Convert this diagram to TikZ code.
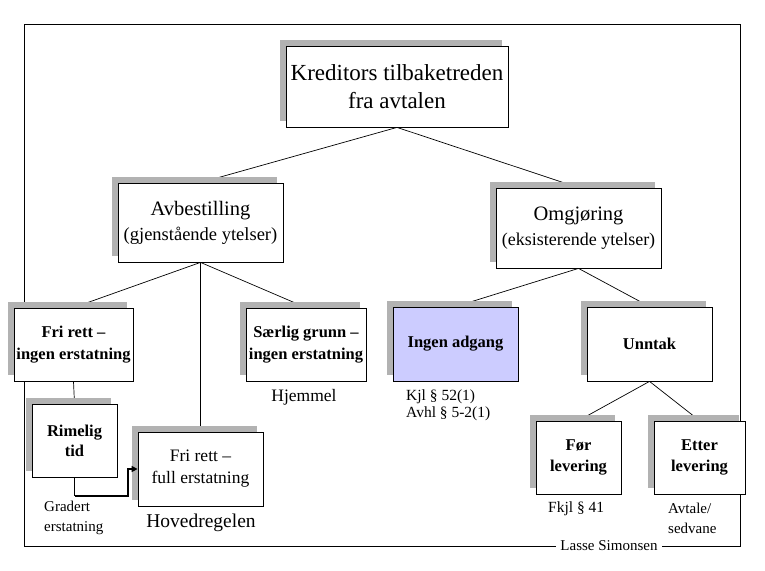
\documentclass[tikz,border=0pt]{standalone}
\usepackage{fontspec}
\setmainfont{Liberation Serif}
\usetikzlibrary{shadows,backgrounds,arrows.meta}
\definecolor{shadowgray}{RGB}{178,178,178}
\definecolor{lav}{RGB}{204,204,255}
\newcommand{\myfs}[2]{\fontsize{#1}{#2}\selectfont}
\begin{document}
\begin{tikzpicture}[x=1pt,y=-1pt,
  box/.style={draw=black, line width=0.8pt, fill=white, inner sep=0pt, align=center,
    drop shadow={shadow xshift=-6pt, shadow yshift=6pt, fill=shadowgray, opacity=1}},
  lbl/.style={inner sep=0pt, align=left},
  conn/.style={line width=0.7pt, draw=black}]
\useasboundingbox (0,0) rectangle (765,570);

% boxes
\node[box, minimum width=222pt, minimum height=81pt, font=\myfs{23}{28}] (top) at (397,86.5) {Kreditors tilbaketreden\\fra avtalen};
\node[box, minimum width=165pt, minimum height=79pt, font=\myfs{18.5}{25}] (avb) at (200.5,222.5) {{\myfs{20.5}{25}Avbestilling}\\(gjenstående ytelser)};
\node[box, minimum width=165pt, minimum height=80pt, font=\myfs{18}{25}] (omg) at (578.5,228) {{\myfs{20.5}{25}Omgjøring}\\(eksisterende ytelser)};
\node[box, minimum width=119pt, minimum height=73pt, font=\bfseries\myfs{16.5}{22}] (fri1) at (73.5,344.5) {Fri rett –\\ingen erstatning};
\node[box, minimum width=120pt, minimum height=73pt, font=\bfseries\myfs{16.5}{22}] (sar) at (306,344.5) {Særlig grunn –\\ingen erstatning};
\node[box, fill=lav, minimum width=125pt, minimum height=74pt, font=\bfseries\myfs{16.5}{22}] (ing) at (455.5,344) {Ingen adgang};
\node[box, minimum width=125pt, minimum height=74pt, font=\bfseries\myfs{16.5}{22}] (unn) at (649.5,344) {Unntak};
\node[box, minimum width=85pt, minimum height=73pt, font=\bfseries\myfs{16.5}{21}] (for) at (578.5,457.5) {Før\\levering};
\node[box, minimum width=91pt, minimum height=73pt, font=\bfseries\myfs{16.5}{21}] (ett) at (699.5,457.5) {Etter\\levering};
\node[box, minimum width=85pt, minimum height=73pt, font=\bfseries\myfs{16.5}{20}] (rim) at (74.5,440.5) {Rimelig\\tid};
\node[box, minimum width=125pt, minimum height=74pt, font=\myfs{17.5}{22}] (full) at (200.5,469) {Fri rett –\\full erstatning};

% labels
\node[lbl, font=\myfs{17.5}{20}] (hje) at (304,397) {Hjemmel};
\node[lbl, font=\myfs{19.5}{22}] (hov) at (201,523) {Hovedregelen};
\node[lbl, anchor=west, font=\myfs{15}{20}] (gra) at (44,518) {Gradert\\erstatning};
\node[lbl, anchor=west, font=\myfs{15.5}{17}] (kjl) at (406,405.5) {Kjl § 52(1)\\Avhl § 5-2(1)};
\node[lbl, anchor=west, font=\myfs{15.5}{18}] (fkj) at (548,509) {Fkjl § 41};
\node[lbl, anchor=west, font=\myfs{15}{20}] (avt) at (668,518) {Avtale/\\sedvane};

\begin{scope}[on background layer]
  \fill[white] (0,0) rectangle (765,570);
  \draw[line width=0.8pt] (24,24) rectangle (740,546);
  \draw[conn] (top.south) -- (avb.north);
  \draw[conn] (top.south) -- (omg.north);
  \draw[conn] (avb.south) -- (fri1.north);
  \draw[conn] (avb.south) -- (sar.north);
  \draw[conn] (avb.south) -- (full.north);
  \draw[conn] (fri1.south) -- (rim.north);
  \draw[conn] (omg.south) -- (ing.north);
  \draw[conn] (omg.south) -- (unn.north);
  \draw[conn] (unn.south) -- (for.north);
  \draw[conn] (unn.south) -- (ett.north);
\end{scope}

\node[fill=white, inner xsep=4pt, inner ysep=1pt, font=\myfs{15}{18}] (las) at (609,546) {Lasse Simonsen};

\coordinate (bend) at (128,496);
\coordinate (corner) at (rim.south |- bend);
\draw[conn] (rim.south) -- (corner);
\draw[line width=1.6pt, -{Triangle[length=6pt,width=6pt]}] (corner) -- (bend) |- (full.west);
\end{tikzpicture}
\end{document}
